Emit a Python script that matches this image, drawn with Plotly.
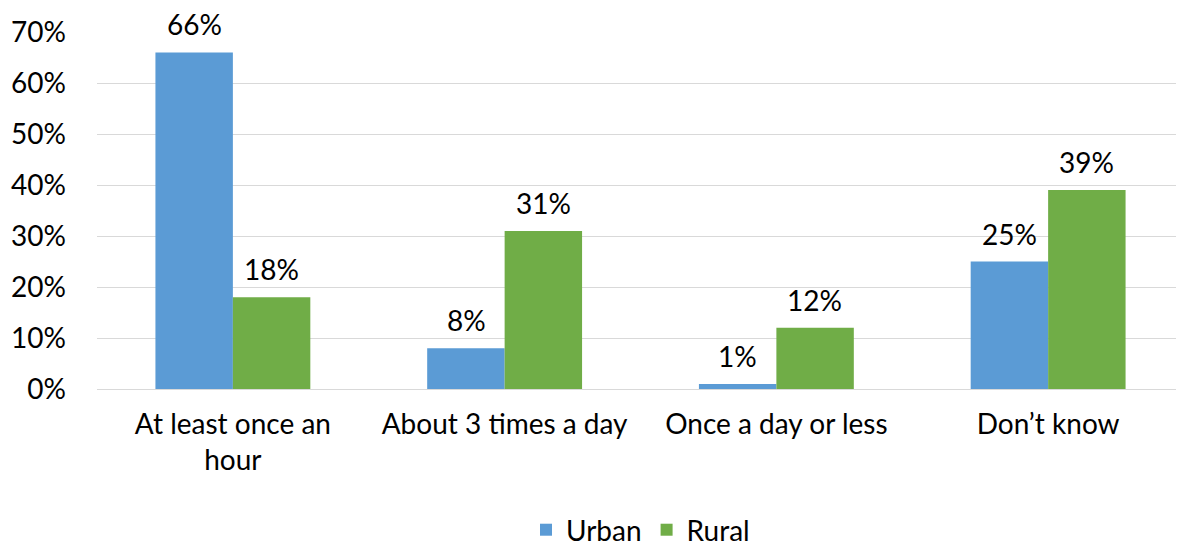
import plotly.graph_objects as go

categories = ["At least once an<br>hour", "About 3 times a day", "Once a day or less", "Don’t know"]
urban = [66, 8, 1, 25]
rural = [18, 31, 12, 39]
y_ticks = [0, 10, 20, 30, 40, 50, 60, 70]
y_tick_labels = [f"{v}%" for v in y_ticks]

font = dict(family="Lato, Open Sans, sans-serif", size=28, color="#000000")

fig = go.Figure()
fig.add_trace(go.Bar(
    x=categories, y=urban, name="Urban",
    marker=dict(color="#5B9BD5", line=dict(width=0)),
))
fig.add_trace(go.Bar(
    x=categories, y=rural, name="Rural",
    marker=dict(color="#70AD47", line=dict(width=0)),
))

# value labels sit a bit higher above the bars than plotly's outside text does
half_bar = 38.5
for cat, u, r in zip(categories, urban, rural):
    for val, shift in ((u, -half_bar), (r, half_bar)):
        fig.add_annotation(x=cat, y=val, text=f"{val}%", showarrow=False,
                           xshift=shift, yshift=9, yanchor="bottom", font=font)

# page body has an 8px margin, so the figure is sized to fit inside the window
fig.update_layout(
    width=1176, height=538,
    paper_bgcolor="white", plot_bgcolor="white",
    font=font,
    barmode="group", bargap=0.43, bargroupgap=0,
    margin=dict(l=89, r=0, t=24, b=157, autoexpand=False),
    showlegend=True,
    legend=dict(orientation="h", x=0.5, xanchor="center", y=-0.395, yanchor="middle",
                font=font, itemwidth=30),
    xaxis=dict(showline=True, linecolor="#D9D9D9", linewidth=1, ticks="",
               tickfont=font, automargin=False, ticklabelstandoff=10),
    yaxis=dict(range=[0, 70], tickvals=y_ticks, ticktext=y_tick_labels,
               showgrid=True, gridcolor="#D9D9D9", gridwidth=1, zeroline=False,
               tickfont=font, ticks="", automargin=False, ticklabelstandoff=30),
)

fig.write_html("out.html")
